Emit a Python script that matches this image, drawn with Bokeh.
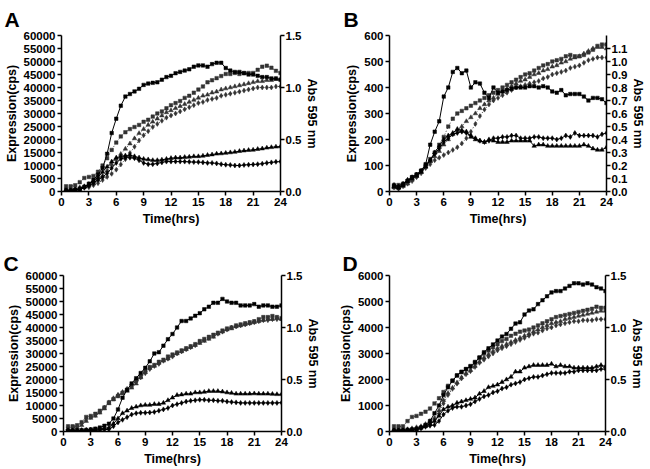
from bokeh.plotting import figure
from bokeh.models import Range1d, LinearAxis, SingleIntervalTicker, NumeralTickFormatter
from bokeh.layouts import column, row
from bokeh.embed import file_html
from bokeh.resources import INLINE

FONT = "Liberation Sans"

hours = [0.5, 1.0, 1.5, 2.0, 2.5, 3.0, 3.5, 4.0, 4.5, 5.0, 5.5, 6.0, 6.5, 7.0, 7.5, 8.0,
         8.5, 9.0, 9.5, 10.0, 10.5, 11.0, 11.5, 12.0, 12.5, 13.0, 13.5, 14.0, 14.5, 15.0, 15.5, 16.0,
         16.5, 17.0, 17.5, 18.0, 18.5, 19.0, 19.5, 20.0, 20.5, 21.0, 21.5, 22.0, 22.5, 23.0, 23.5, 24.0]
x_ticks_step = 3

# ---------------- Panel A ----------------
a_expr_sq = [600, 500, 700, 1000, 1800, 3000, 4500, 6500, 9000, 14500, 22500, 28000, 33000, 36500, 37500, 38500,
             39500, 41000, 41500, 41800, 42000, 43000, 44000, 44500, 45500, 46000, 46500, 47000, 48000, 48500, 48500, 48000,
             49000, 49500, 49500, 47500, 46500, 46000, 46000, 45500, 45000, 45000, 44500, 44000, 44000, 43500, 43500, 43000]
a_expr_tri = [300, 400, 600, 1000, 1800, 2800, 4000, 5500, 7500, 9500, 11500, 13000, 13500, 13800, 14000, 13500,
              13000, 12500, 12300, 12000, 12000, 12200, 12500, 12800, 13000, 13000, 13200, 13300, 13500, 13500, 13700, 14000,
              14200, 14500, 14600, 14800, 15000, 15200, 15500, 15700, 15900, 16000, 16300, 16500, 16800, 17000, 17200, 17300]
a_expr_dia = [200, 300, 500, 800, 1400, 2200, 3200, 4500, 5500, 7000, 9000, 11000, 12500, 13000, 13000, 12800,
              12000, 11000, 10500, 10500, 10800, 11200, 11500, 11500, 11500, 11500, 11500, 11400, 11300, 11300, 11200, 11000,
              11000, 10800, 10500, 10300, 10200, 10000, 10000, 10200, 10300, 10400, 10500, 10700, 11000, 11200, 11400, 11500]
a_od_sq = [0.05, 0.05, 0.06, 0.09, 0.13, 0.14, 0.15, 0.19, 0.25, 0.32, 0.40, 0.47, 0.53, 0.57, 0.60, 0.62,
           0.64, 0.67, 0.69, 0.72, 0.75, 0.77, 0.80, 0.83, 0.85, 0.87, 0.90, 0.92, 0.95, 0.98, 1.01, 1.05,
           1.07, 1.09, 1.11, 1.13, 1.13, 1.14, 1.13, 1.14, 1.14, 1.14, 1.17, 1.20, 1.21, 1.19, 1.16, 1.14]
a_od_tri = [0.02, 0.02, 0.03, 0.04, 0.05, 0.06, 0.08, 0.11, 0.15, 0.20, 0.26, 0.31, 0.36, 0.41, 0.46, 0.51,
            0.56, 0.60, 0.64, 0.67, 0.70, 0.73, 0.76, 0.78, 0.80, 0.82, 0.84, 0.86, 0.88, 0.90, 0.92, 0.93,
            0.95, 0.96, 0.98, 0.99, 1.00, 1.01, 1.02, 1.03, 1.04, 1.05, 1.06, 1.06, 1.07, 1.07, 1.08, 1.08]
a_od_dia = [0.01, 0.01, 0.02, 0.03, 0.04, 0.04, 0.06, 0.08, 0.11, 0.14, 0.17, 0.21, 0.26, 0.31, 0.37, 0.43,
            0.49, 0.54, 0.58, 0.62, 0.65, 0.68, 0.71, 0.73, 0.75, 0.77, 0.79, 0.81, 0.83, 0.85, 0.86, 0.88,
            0.89, 0.90, 0.92, 0.93, 0.94, 0.95, 0.96, 0.97, 0.98, 0.99, 1.00, 1.00, 1.00, 1.00, 1.01, 1.01]

# ---------------- Panel B ----------------
b_expr_sq = [20, 15, 25, 40, 55, 65, 80, 105, 180, 230, 270, 365, 400, 460, 475, 455,
             465, 400, 420, 415, 380, 360, 400, 380, 385, 390, 395, 400, 400, 400, 405, 405,
             400, 405, 400, 385, 380, 390, 370, 375, 375, 375, 365, 350, 360, 360, 355, 340]
b_expr_tri = [20, 15, 25, 40, 50, 60, 75, 95, 120, 150, 175, 200, 215, 225, 240, 235,
              230, 210, 200, 195, 190, 200, 195, 190, 190, 190, 195, 195, 195, 195, 195, 175,
              180, 180, 175, 175, 175, 175, 175, 175, 175, 175, 180, 175, 165, 160, 160, 170]
b_expr_dia = [25, 20, 30, 45, 55, 65, 80, 100, 120, 145, 165, 190, 205, 220, 225, 230,
              225, 215, 205, 195, 190, 195, 205, 205, 210, 210, 215, 215, 205, 205, 205, 210,
              210, 205, 205, 205, 200, 205, 215, 210, 225, 215, 215, 215, 215, 210, 220, 225]
b_od_sq = [0.05, 0.05, 0.06, 0.08, 0.11, 0.13, 0.16, 0.20, 0.25, 0.30, 0.36, 0.42, 0.50, 0.56, 0.60, 0.62,
           0.64, 0.66, 0.68, 0.70, 0.72, 0.74, 0.76, 0.78, 0.80, 0.82, 0.84, 0.86, 0.88, 0.90, 0.91, 0.93,
           0.95, 0.97, 0.98, 1.00, 1.01, 1.02, 1.04, 1.05, 1.04, 1.04, 1.05, 1.07, 1.09, 1.12, 1.13, 1.13]
b_od_tri = [0.03, 0.03, 0.04, 0.06, 0.09, 0.12, 0.15, 0.19, 0.23, 0.27, 0.31, 0.36, 0.40, 0.44, 0.47, 0.50,
            0.54, 0.57, 0.60, 0.64, 0.67, 0.70, 0.72, 0.75, 0.77, 0.79, 0.81, 0.83, 0.85, 0.86, 0.88, 0.90,
            0.91, 0.93, 0.94, 0.96, 0.97, 0.99, 1.00, 1.02, 1.03, 1.04, 1.06, 1.08, 1.10, 1.11, 1.11, 1.10]
b_od_dia = [0.03, 0.02, 0.04, 0.06, 0.08, 0.11, 0.14, 0.18, 0.21, 0.24, 0.26, 0.28, 0.30, 0.32, 0.34, 0.37,
            0.41, 0.46, 0.52, 0.58, 0.63, 0.67, 0.70, 0.72, 0.74, 0.76, 0.78, 0.80, 0.81, 0.82, 0.83, 0.84,
            0.85, 0.87, 0.88, 0.90, 0.91, 0.92, 0.93, 0.95, 0.96, 0.97, 0.99, 1.01, 1.02, 1.03, 1.03, 1.03]

# ---------------- Panel C ----------------
c_expr_sq = [300, 300, 400, 500, 600, 800, 1100, 1500, 2200, 3000, 5000, 8500, 13000, 16000, 18500, 20500,
             22500, 24500, 27000, 30000, 30500, 33000, 35500, 37500, 40000, 42500, 42500, 43500, 44500, 45500, 47000, 48000,
             49500, 49500, 51000, 50000, 49500, 49500, 48500, 48500, 48500, 49000, 48000, 48500, 48500, 48000, 48000, 48500]
c_expr_tri = [500, 400, 400, 500, 600, 700, 800, 1000, 1200, 1500, 3000, 5000, 7000, 8000, 9000, 9500,
              10000, 10200, 10200, 10500, 10500, 11000, 12000, 13000, 14000, 14200, 14500, 14500, 15000, 15000, 15200, 15500,
              15500, 15500, 15300, 15000, 14800, 14500, 14500, 14500, 14500, 14600, 14500, 14500, 14500, 14400, 14300, 14300]
c_expr_dia = [200, 200, 200, 300, 300, 400, 500, 600, 700, 800, 2000, 3500, 4500, 5500, 6500, 7000,
              7200, 7200, 7300, 7500, 8000, 8500, 9000, 10000, 10500, 11000, 11500, 11800, 12000, 12200, 12200, 12000,
              12000, 11800, 11800, 11500, 11300, 11200, 11000, 11000, 11000, 11000, 11000, 11000, 11000, 11000, 11000, 11100]
c_od_sq = [0.05, 0.05, 0.06, 0.09, 0.14, 0.15, 0.17, 0.20, 0.23, 0.28, 0.31, 0.34, 0.37, 0.40, 0.44, 0.49,
           0.53, 0.58, 0.62, 0.64, 0.67, 0.69, 0.72, 0.74, 0.76, 0.78, 0.80, 0.82, 0.84, 0.87, 0.89, 0.91,
           0.93, 0.95, 0.97, 0.99, 1.00, 1.02, 1.03, 1.04, 1.05, 1.06, 1.08, 1.10, 1.10, 1.11, 1.10, 1.09]
c_od_tri = [0.03, 0.03, 0.04, 0.06, 0.10, 0.13, 0.15, 0.18, 0.22, 0.27, 0.31, 0.35, 0.37, 0.39, 0.42, 0.46,
            0.52, 0.57, 0.61, 0.63, 0.66, 0.68, 0.70, 0.73, 0.75, 0.77, 0.79, 0.81, 0.83, 0.85, 0.87, 0.89,
            0.91, 0.94, 0.96, 0.98, 0.99, 1.01, 1.02, 1.03, 1.04, 1.05, 1.06, 1.07, 1.08, 1.08, 1.09, 1.08]
c_od_dia = [0.04, 0.04, 0.05, 0.08, 0.12, 0.14, 0.16, 0.19, 0.23, 0.28, 0.32, 0.35, 0.38, 0.41, 0.45, 0.48,
            0.52, 0.56, 0.60, 0.63, 0.65, 0.68, 0.70, 0.72, 0.75, 0.77, 0.79, 0.81, 0.83, 0.86, 0.88, 0.90,
            0.92, 0.94, 0.96, 0.98, 1.00, 1.01, 1.02, 1.03, 1.04, 1.05, 1.06, 1.07, 1.07, 1.08, 1.08, 1.08]

# ---------------- Panel D ----------------
d_expr_sq = [50, 50, 50, 60, 80, 100, 150, 250, 400, 700, 1000, 1400, 1700, 1950, 2150, 2300,
             2400, 2500, 2650, 2850, 3050, 3200, 3350, 3500, 3650, 3750, 3950, 4150, 4200, 4500, 4650, 4700,
             4900, 5050, 5200, 5350, 5400, 5400, 5500, 5600, 5700, 5700, 5650, 5700, 5650, 5550, 5500, 5400]
d_expr_tri = [30, 30, 40, 50, 60, 100, 150, 200, 300, 400, 600, 850, 950, 1000, 1100, 1150,
              1200, 1250, 1300, 1450, 1550, 1700, 1750, 1800, 1900, 2000, 2100, 2300, 2300, 2450, 2500, 2550,
              2550, 2550, 2550, 2600, 2500, 2550, 2500, 2500, 2450, 2450, 2450, 2450, 2450, 2500, 2550, 2500]
d_expr_dia = [20, 20, 30, 40, 50, 80, 120, 180, 220, 250, 400, 650, 800, 900, 950, 950,
              1000, 1050, 1150, 1250, 1350, 1400, 1500, 1550, 1650, 1700, 1800, 1850, 1900, 2000, 2050, 2100,
              2100, 2150, 2200, 2250, 2250, 2250, 2250, 2300, 2300, 2350, 2350, 2350, 2350, 2350, 2400, 2400]
d_od_sq = [0.05, 0.05, 0.05, 0.10, 0.14, 0.15, 0.17, 0.19, 0.22, 0.27, 0.32, 0.38, 0.44, 0.49, 0.54, 0.57,
           0.60, 0.63, 0.67, 0.71, 0.75, 0.78, 0.81, 0.84, 0.87, 0.89, 0.92, 0.94, 0.96, 0.97, 0.98, 1.00,
           1.02, 1.04, 1.06, 1.08, 1.10, 1.11, 1.12, 1.13, 1.14, 1.15, 1.16, 1.17, 1.18, 1.20, 1.19, 1.19]
d_od_tri = [0.02, 0.02, 0.02, 0.02, 0.03, 0.04, 0.05, 0.07, 0.10, 0.13, 0.20, 0.30, 0.37, 0.42, 0.47, 0.52,
            0.56, 0.59, 0.63, 0.67, 0.71, 0.74, 0.77, 0.80, 0.82, 0.84, 0.86, 0.88, 0.90, 0.92, 0.94, 0.96,
            0.98, 1.00, 1.02, 1.04, 1.05, 1.06, 1.08, 1.09, 1.10, 1.11, 1.12, 1.13, 1.14, 1.15, 1.16, 1.16]
d_od_dia = [0.01, 0.01, 0.01, 0.02, 0.02, 0.03, 0.04, 0.06, 0.08, 0.11, 0.17, 0.27, 0.35, 0.41, 0.46, 0.51,
            0.55, 0.58, 0.62, 0.66, 0.69, 0.72, 0.75, 0.78, 0.80, 0.82, 0.84, 0.86, 0.88, 0.90, 0.92, 0.94,
            0.95, 0.97, 0.99, 1.00, 1.02, 1.03, 1.04, 1.05, 1.06, 1.06, 1.07, 1.07, 1.07, 1.08, 1.08, 1.08]


def style_axis(ax, label_standoff=2, title_standoff=2):
    ax.axis_line_width = 1.5
    ax.axis_line_color = "black"
    ax.major_tick_line_width = 1.5
    ax.major_tick_line_color = "black"
    ax.major_tick_out = 4
    ax.major_tick_in = 0
    ax.minor_tick_line_color = None
    ax.major_label_text_font = FONT
    ax.major_label_text_font_style = "bold"
    ax.major_label_text_font_size = "11.5px"
    ax.major_label_text_color = "black"
    ax.major_label_standoff = label_standoff
    ax.axis_label_text_font = FONT
    ax.axis_label_text_font_style = "bold"
    ax.axis_label_text_font_size = "12.5px"
    ax.axis_label_text_color = "black"
    ax.axis_label_standoff = title_standoff


def panel(letter, expr, od, ymax, ystep, odmax, odstep, w, h, bl, br, bt, bb, loff, lstand):
    p = figure(width=w, height=h, output_backend="svg", toolbar_location=None,
               x_range=Range1d(0, 24), y_range=Range1d(0, ymax),
               min_border_left=bl, min_border_right=br, min_border_top=bt, min_border_bottom=bb)
    p.extra_y_ranges = {"od": Range1d(0, odmax)}
    p.outline_line_color = None
    p.xgrid.visible = False
    p.ygrid.visible = False
    p.background_fill_color = "white"
    p.border_fill_color = "white"

    p.xaxis.ticker = SingleIntervalTicker(interval=x_ticks_step)
    p.xaxis.axis_label = "Time(hrs)"
    p.yaxis.ticker = SingleIntervalTicker(interval=ystep)
    p.yaxis.formatter = NumeralTickFormatter(format="0")
    p.yaxis.axis_label = "Expression(cps)"
    rax = LinearAxis(y_range_name="od", axis_label="Abs 595 nm",
                     ticker=SingleIntervalTicker(interval=odstep),
                     formatter=NumeralTickFormatter(format="0.0"))
    p.add_layout(rax, "right")
    style_axis(p.xaxis[0], 2, 3)
    style_axis(p.yaxis[0], 2, 2)
    style_axis(rax, 1, 1)

    p.title.text = letter
    p.title.text_font = FONT
    p.title.text_font_size = "21px"
    p.title.text_font_style = "bold"
    p.title.text_color = "black"
    p.title.standoff = lstand
    p.title.offset = loff

    markers = [("square", 3.5), ("triangle", 4.5), ("diamond", 5)]
    for (mk, sz), ys in zip(markers, od):
        p.line(hours, ys, y_range_name="od", line_color="#222222", line_width=0.9, line_dash="1 2")
        p.scatter(hours, ys, y_range_name="od", marker=mk, size=sz,
                  fill_color="#333333", line_color="#333333", line_width=0.5)
    for (mk, sz), ys in zip(markers, expr):
        p.line(hours, ys, line_color="black", line_width=1)
        p.scatter(hours, ys, marker=mk, size=sz, fill_color="black", line_color="black", line_width=0.5)
    return p


pA = panel("A", [a_expr_sq, a_expr_tri, a_expr_dia], [a_od_sq, a_od_tri, a_od_dia],
           60000, 5000, 1.5, 0.5, 330, 228, 61, 50, 34, 37, -57, 10)
pB = panel("B", [b_expr_sq, b_expr_tri, b_expr_dia], [b_od_sq, b_od_tri, b_od_dia],
           600, 100, 1.2, 0.1, 318, 228, 59, 42, 34, 37, -46, 10)
pC = panel("C", [c_expr_sq, c_expr_tri, c_expr_dia], [c_od_sq, c_od_tri, c_od_dia],
           60000, 5000, 1.5, 0.5, 330, 240, 63, 49, 47, 37, -60, 2)
pD = panel("D", [d_expr_sq, d_expr_tri, d_expr_dia], [d_od_sq, d_od_tri, d_od_dia],
           6000, 1000, 1.5, 0.5, 318, 240, 59, 43, 47, 37, -47, 2)

layout = column(row(pA, pB), row(pC, pD))
open("out.html", "w").write(file_html(layout, INLINE))
